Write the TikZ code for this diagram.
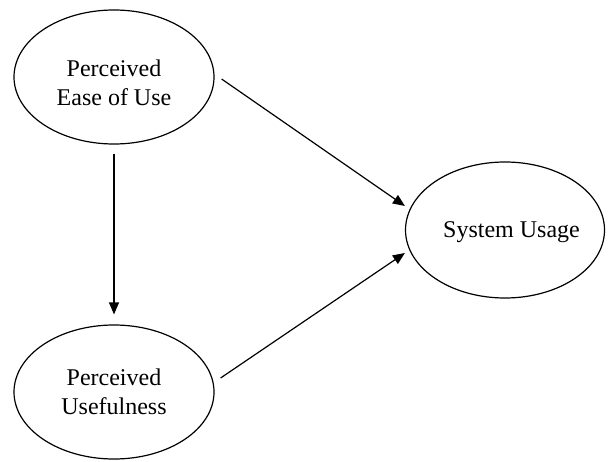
\documentclass[tikz,border=0pt]{standalone}
\usepackage{fontspec}
\setmainfont{Liberation Serif}
\usepackage{tikz}
\usetikzlibrary{arrows.meta,shapes,positioning,calc}

\begin{document}
\begin{tikzpicture}[x=0.5pt, y=0.5pt,
    construct/.style={draw, ellipse, line width=0.6pt, inner sep=0pt,
        minimum width=100pt, minimum height=67pt},
    caption/.style={align=center, font=\fontsize{12}{14.5}\selectfont},
    link/.style={-{Triangle[length=6pt,width=5pt]}, line width=0.6pt}]
    \useasboundingbox (0,0) rectangle (609,461);

    % Constructs
    \node[construct, label={[caption, yshift=-3pt]center:Perceived\\Ease of Use}] (peou) at (114,384) {};
    \node[construct, label={[caption]center:Perceived\\Usefulness}] (pu) at (114,69) {};
    \node[construct, minimum width=99.5pt, minimum height=68pt,
        label={[caption, xshift=3.25pt, yshift=-1pt]center:System Usage}] (usage) at (505,231) {};

    % Paths
    \draw[link] ([xshift=3.5pt,yshift=-1pt]peou.east) -- ([yshift=12pt]usage.west);
    \draw[link] ([yshift=-4.5pt]peou.south) -- ([yshift=5pt]pu.north);
    \draw[link] ([xshift=3pt,yshift=7pt]pu.east) -- ([yshift=-11.5pt]usage.west);
\end{tikzpicture}
\end{document}
